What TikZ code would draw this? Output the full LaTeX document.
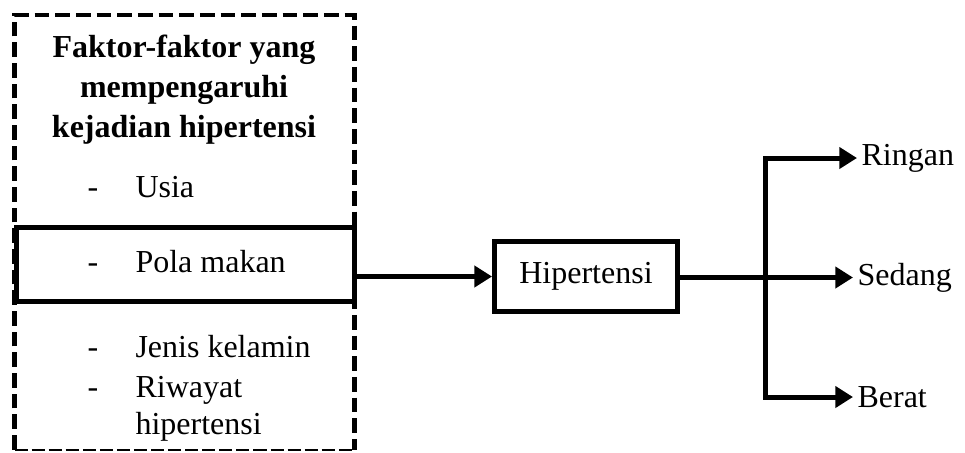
\documentclass[tikz,border=0pt]{standalone}
\usepackage{fontspec}
\setmainfont{Liberation Serif}
\usetikzlibrary{arrows.meta}

\tikzset{
  box/.style={draw, line width=1.875pt, inner sep=0pt, font=\fontsize{12}{15}\selectfont},
  link/.style={line width=1.875pt, -{Triangle[length=6.6pt,width=7.8pt]}},
  txt/.style={anchor=base west, inner sep=0pt, font=\fontsize{12}{15}\selectfont},
  side/.style={anchor=west, inner xsep=1.5pt, inner ysep=0pt, font=\fontsize{12}{15}\selectfont},
  dashside/.style={line width=1.8pt, dash pattern=on 5.5pt off 2.25pt},
  dashbottom/.style={line width=0.8pt, dash pattern=on 4.9pt off 1.5pt},
}

\begin{document}
\begin{tikzpicture}[x=0.375pt,y=-0.375pt]
  \useasboundingbox (0,0) rectangle (965,452);

  % faktor box
  \node[minimum width=127.1pt, minimum height=162.6pt, inner sep=0pt] (faktor) at (184.5,232.25) {};
  \draw[dashside] (faktor.south west) -- (faktor.north west) -- (faktor.north east) -- (faktor.south east);
  \draw[dashbottom] (faktor.south west) -- (faktor.south east);

  \node[txt, anchor=base, align=center, font=\fontsize{12}{15}\selectfont\bfseries] (judul) at (184,137)
    {Faktor-faktor yang\\ mempengaruhi\\ kejadian hipertensi};

  \node[txt] (d1) at (87,197) {-};
  \node[txt] (usia) at (135,197) {Usia};

  \node[box, minimum width=126.75pt, minimum height=27.75pt] (pola) at (185,264) {};
  \node[txt] (d2) at (87,272) {-};
  \node[txt] (makan) at (135,272) {Pola makan};

  \node[txt] (d3) at (87,357) {-};
  \node[txt] (kelamin) at (135,357) {Jenis kelamin};
  \node[txt] (d4) at (87,397) {-};
  \node[txt] (riwayat) at (135,397) {Riwayat};
  \node[txt] (riwayat2) at (135,434) {hipertensi};

  % hipertensi and levels
  \node[box, minimum width=68.6pt, minimum height=26.4pt] (hip) at (586,276.5) {Hipertensi};
  \coordinate (cabang) at (765,277.5);

  \node[side] (ringan) at (857,158) {Ringan};
  \node[side] (sedang) at (853,277.5) {Sedang};
  \node[side] (berat) at (853,397) {Berat};

  \draw[link] (hip.west -| pola.east) -- (hip.west);
  \draw[link] (hip.east |- cabang) -- (sedang.west);
  \draw[link] (cabang) |- (ringan.west);
  \draw[link] (cabang) |- (berat.west);
\end{tikzpicture}
\end{document}
